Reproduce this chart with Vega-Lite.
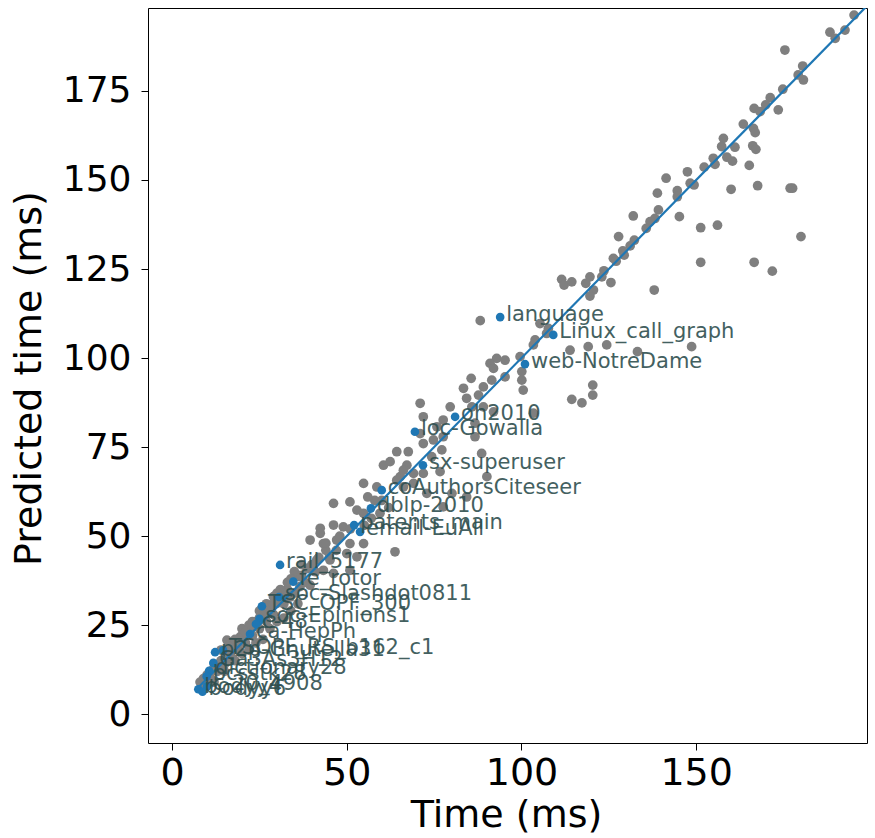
{
  "$schema": "https://vega.github.io/schema/vega-lite/v6.json",
  "width": 719,
  "height": 735,
  "autosize": "none",
  "padding": {"left": 148, "top": 8, "right": 8, "bottom": 95},
  "background": "white",
  "config": {
    "view": {"stroke": "black", "strokeWidth": 1},
    "axis": {"grid": false, "domain": false, "tickColor": "black", "tickSize": 7, "tickWidth": 1, "labelColor": "black", "titleColor": "black", "titleFontWeight": "normal", "labelFlush": false, "labelOverlap": false}
  },
  "datasets": {
    "gray": [
      {"x":195.2,"y":196.3},{"x":188.3,"y":191.5},{"x":189.8,"y":189.8},{"x":192.6,"y":192.1},{"x":175.4,"y":186.5},{"x":180.5,"y":182.0},{"x":179.2,"y":179.5},{"x":180.7,"y":178.1},{"x":174.8,"y":175.5},{"x":171.2,"y":173.1},{"x":169.9,"y":171.1},{"x":166.6,"y":170.1},{"x":168.3,"y":169.2},{"x":173.5,"y":169.7},{"x":163.5,"y":165.7},{"x":166.4,"y":164.5},{"x":166.9,"y":163.3},{"x":157.8,"y":161.7},{"x":157.3,"y":159.4},{"x":161.1,"y":159.2},{"x":166.2,"y":159.6},{"x":167.1,"y":158.6},{"x":158.8,"y":156.4},{"x":160.4,"y":155.3},{"x":154.9,"y":156.1},{"x":155.4,"y":154.4},{"x":152.3,"y":153.6},{"x":165.2,"y":154.1},{"x":147.5,"y":152.3},{"x":148.3,"y":149.1},{"x":149.4,"y":148.6},{"x":141.4,"y":150.5},{"x":160.0,"y":147.4},{"x":167.6,"y":148.4},{"x":176.9,"y":147.7},{"x":177.6,"y":147.7},{"x":138.9,"y":146.3},{"x":144.6,"y":147.0},{"x":144.6,"y":145.3},{"x":139.2,"y":141.6},{"x":138.2,"y":139.2},{"x":136.8,"y":138.3},{"x":135.7,"y":136.4},{"x":132.0,"y":139.9},{"x":145.2,"y":139.7},{"x":151.3,"y":136.6},{"x":156.1,"y":137.3},{"x":180.0,"y":134.1},{"x":127.8,"y":134.1},{"x":132.3,"y":133.1},{"x":131.1,"y":131.5},{"x":129.0,"y":130.1},{"x":129.4,"y":128.9},{"x":126.3,"y":128.0},{"x":127.1,"y":127.2},{"x":151.3,"y":126.9},{"x":166.6,"y":126.9},{"x":171.8,"y":124.4},{"x":123.6,"y":124.5},{"x":123.0,"y":122.8},{"x":125.6,"y":121.2},{"x":119.6,"y":122.8},{"x":118.4,"y":121.0},{"x":111.5,"y":122.1},{"x":112.2,"y":120.5},{"x":114.4,"y":121.4},{"x":120.6,"y":119.1},{"x":119.6,"y":117.4},{"x":138.0,"y":119.1},
      {"x":88.2,"y":110.5},{"x":105.3,"y":109.7},{"x":107.7,"y":108.3},{"x":107.2,"y":106.9},{"x":103.9,"y":105.1},{"x":103.4,"y":103.7},{"x":113.9,"y":102.2},{"x":119.1,"y":103.2},{"x":124.4,"y":103.7},{"x":133.2,"y":101.8},{"x":148.7,"y":103.2},{"x":99.6,"y":100.4},{"x":92.9,"y":99.9},{"x":91.0,"y":98.5},{"x":95.3,"y":99.4},{"x":92.0,"y":97.1},{"x":95.3,"y":94.7},{"x":100.1,"y":96.2},{"x":100.1,"y":93.8},{"x":85.6,"y":94.3},{"x":91.5,"y":93.8},{"x":83.4,"y":91.5},{"x":89.1,"y":91.9},{"x":87.7,"y":89.6},{"x":100.5,"y":91.0},{"x":84.3,"y":88.7},{"x":120.4,"y":92.4},{"x":120.4,"y":89.6},{"x":114.4,"y":88.4},{"x":117.3,"y":87.4},{"x":71.0,"y":87.3},{"x":79.6,"y":86.3},{"x":85.8,"y":86.3},{"x":89.1,"y":86.3},{"x":92.0,"y":84.9},{"x":103.4,"y":84.5},{"x":71.9,"y":83.5},{"x":77.6,"y":82.6},{"x":86.7,"y":81.7},{"x":75.8,"y":80.7},{"x":71.0,"y":78.8},{"x":77.6,"y":77.9},{"x":86.7,"y":77.9},{"x":74.8,"y":77.0},{"x":71.9,"y":76.0},{"x":67.6,"y":73.7},{"x":77.2,"y":74.2},{"x":88.6,"y":73.2},{"x":74.3,"y":72.3},{"x":76.7,"y":68.1},{"x":67.2,"y":69.9},{"x":90.1,"y":66.7},{"x":71.9,"y":67.6},{"x":69.1,"y":64.8},{"x":65.3,"y":66.7},{"x":80.1,"y":62.0},{"x":77.6,"y":58.2},{"x":72.9,"y":62.0},{"x":84.3,"y":61.0},
      {"x":64.3,"y":73.7},{"x":60.5,"y":69.9},{"x":62.4,"y":70.9},{"x":66.2,"y":68.5},{"x":69.1,"y":67.6},{"x":54.8,"y":64.8},{"x":64.3,"y":65.7},{"x":58.6,"y":63.8},{"x":66.2,"y":63.8},{"x":46.2,"y":59.2},{"x":50.9,"y":59.6},{"x":52.9,"y":57.3},{"x":54.8,"y":56.4},{"x":59.5,"y":56.4},{"x":42.4,"y":52.2},{"x":46.2,"y":53.1},{"x":49.0,"y":52.6},
      {"x":39.5,"y":48.9},{"x":42.4,"y":50.8},{"x":43.3,"y":47.9},{"x":47.1,"y":48.9},{"x":50.9,"y":47.9},{"x":54.8,"y":47.9},{"x":63.8,"y":45.6},{"x":50.0,"y":45.1},{"x":52.9,"y":44.2},{"x":41.4,"y":43.3},{"x":45.2,"y":43.3},{"x":38.6,"y":40.9},{"x":43.3,"y":40.4},{"x":36.6,"y":38.6},{"x":46.2,"y":39.5},{"x":50.9,"y":40.4},{"x":36.6,"y":35.8},{"x":39.5,"y":36.2},{"x":33.8,"y":32.9},{"x":30.0,"y":31.1},{"x":27.1,"y":28.3},{"x":22.3,"y":23.6},{"x":19.5,"y":21.7},{"x":17.5,"y":19.9},{"x":15.7,"y":20.8},
      {"x":10,"y":11},{"x":11,"y":10},{"x":12,"y":13},{"x":13,"y":12},{"x":14,"y":15},{"x":15,"y":14},{"x":16,"y":17},{"x":17,"y":16},{"x":18,"y":19},{"x":19,"y":18},{"x":20,"y":22},{"x":21,"y":20},{"x":22,"y":24},{"x":23,"y":22},{"x":24,"y":26},{"x":25,"y":24},{"x":26,"y":28},{"x":27,"y":26},{"x":28,"y":30},{"x":29,"y":28},{"x":31,"y":33},{"x":32,"y":31},{"x":33,"y":35},{"x":35,"y":34},{"x":36,"y":39},{"x":38,"y":37},{"x":40,"y":42},{"x":41,"y":40},{"x":44,"y":46},{"x":45,"y":44},{"x":20,"y":17},{"x":24,"y":20},{"x":28,"y":24},{"x":32,"y":27},{"x":36,"y":31},{"x":26,"y":21},{"x":30,"y":26},{"x":34,"y":29},{"x":22,"y":18},{"x":18,"y":15},{"x":15,"y":12},{"x":12,"y":9},
      {"x":14,"y":18},{"x":16,"y":19},{"x":18,"y":21},{"x":20,"y":24},{"x":23,"y":26},{"x":25,"y":29},{"x":27,"y":31},{"x":29,"y":33},{"x":31,"y":35},{"x":33,"y":37},{"x":35,"y":40},{"x":37,"y":42},{"x":34,"y":38},{"x":30,"y":34},{"x":26,"y":30},{"x":22,"y":25},{"x":9,"y":10},{"x":10,"y":9},{"x":8,"y":9},{"x":9,"y":8},{"x":11,"y":12},{"x":13,"y":14},{"x":14,"y":13},{"x":16,"y":15},{"x":17,"y":18},{"x":19,"y":20},{"x":21,"y":23},{"x":23,"y":25},{"x":25,"y":27},{"x":27,"y":29},{"x":29,"y":31},{"x":31,"y":32},{"x":33,"y":34},{"x":37,"y":39},{"x":39,"y":41},{"x":42,"y":44},{"x":44,"y":48},{"x":47,"y":46},{"x":48,"y":50},{"x":51,"y":52},{"x":55,"y":53},{"x":57,"y":55},{"x":60,"y":60},{"x":62,"y":58},{"x":58,"y":60},{"x":56,"y":61}
    ],
    "blue": [
      {"name":"language","x":93.9,"y":111.5},
      {"name":"Linux_call_graph","x":109.1,"y":106.5},
      {"name":"web-NotreDame","x":101.0,"y":98.3},
      {"name":"oh2010","x":81.0,"y":83.5},
      {"name":"loc-Gowalla","x":69.5,"y":79.3},
      {"name":"sx-superuser","x":71.8,"y":69.9},
      {"name":"coAuthorsCiteseer","x":60.0,"y":62.9},
      {"name":"dblp-2010","x":56.9,"y":57.8},
      {"name":"patents_main","x":52.1,"y":53.1},
      {"name":"email-EuAll","x":53.8,"y":51.2},
      {"name":"rail_5177","x":30.9,"y":41.9},
      {"name":"fe_rotor","x":34.7,"y":37.2},
      {"name":"soc-Slashdot0811","x":30.6,"y":32.9},
      {"name":"TSC_OPF_300","x":25.7,"y":30.3},
      {"name":"soc-Epinions1","x":25.0,"y":26.8},
      {"name":"c-48","x":24.0,"y":25.3},
      {"name":"ca-HepPh","x":22.3,"y":22.5},
      {"name":"TSOPF_RS_b162_c1","x":14.6,"y":17.9},
      {"name":"p2p-Gnutella31","x":12.3,"y":17.4},
      {"name":"Ga3As3H12","x":11.8,"y":14.4},
      {"name":"dictionary28","x":10.6,"y":12.2},
      {"name":"bcsstk28","x":9.9,"y":10.6},
      {"name":"c-20_4908","x":10.0,"y":7.8},
      {"name":"bodyy4","x":7.5,"y":7.0},
      {"name":"bodyy6","x":8.7,"y":6.3}
    ],
    "diag": [{"x":7,"y":7},{"x":205,"y":205}]
  },
  "encoding": {
    "x": {"field":"x","type":"quantitative","scale":{"domain":[-6.9,198.9],"nice":false,"zero":false},
      "axis":{"values":[0,50,100,150],"labelFont":"DejaVu Sans","labelFontSize":38,"labelPadding":4,"title":"Time (ms)","titleFont":"DejaVu Sans","titleFontSize":38,"titleBaseline":"alphabetic","titleX":358,"titleY":83}},
    "y": {"field":"y","type":"quantitative","scale":{"domain":[-8.1,198.3],"nice":false,"zero":false},
      "axis":{"values":[0,25,50,75,100,125,150,175],"labelFont":"DejaVu Sans","labelFontSize":36,"labelPadding":10,"title":"Predicted time (ms)","titleFont":"DejaVu Sans","titleFontSize":38,"titleBaseline":"alphabetic","titleAngle":270,"titleAlign":"center","titleX":-108,"titleY":370}}
  },
  "layer": [
    {"data":{"name":"gray"},"mark":{"type":"circle","color":"#7f7f7f","size":95,"opacity":1}},
    {"data":{"name":"diag"},"mark":{"type":"line","color":"#1f77b4","strokeWidth":2.2,"clip":true}},
    {"data":{"name":"blue"},"mark":{"type":"circle","color":"#1f77b4","size":75,"opacity":1}},
    {"data":{"name":"blue"},"mark":{"type":"text","align":"left","baseline":"alphabetic","dx":6,"dy":3.5,"font":"DejaVu Sans","fontSize":21,"color":"#2f4f4f","opacity":0.9},
      "encoding":{"text":{"field":"name"}}},
    {"data":{"values":[{}]},"mark":{"type":"text","align":"left","baseline":"alphabetic","font":"Liberation Sans","fontSize":51,"color":"#595959"},
      "encoding":{"x":{"datum":-1},"y":{"datum":176.2},"text":{"value":"Edge list"}}}
  ]
}
